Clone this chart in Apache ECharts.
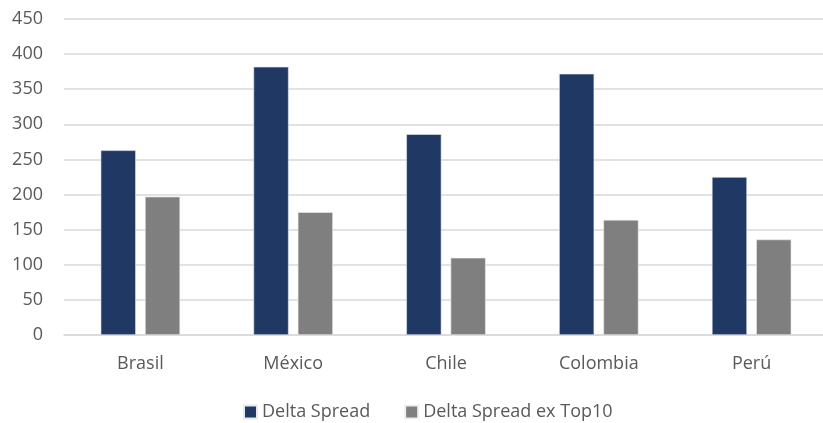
<!DOCTYPE html>
<html>
<head>
<meta charset="utf-8">
<script src="https://cdn.jsdelivr.net/npm/echarts@6/dist/echarts.min.js"></script>
<style>
html,body{margin:0;padding:0;background:#fff;}
#chart{width:823px;height:423px;}
</style>
</head>
<body>
<div id="chart"></div>
<script>
const categories = ['Brasil', 'México', 'Chile', 'Colombia', 'Perú'];
const deltaSpread = [263, 382, 286, 372, 225];
const deltaSpreadExTop10 = [197, 175, 110, 164, 136];
const seriesNames = ['Delta Spread', 'Delta Spread ex Top10'];

const chart = echarts.init(document.getElementById('chart'));
const font = '"Open Sans", "Noto Sans", sans-serif';
chart.setOption({
  animation: false,
  textStyle: { fontFamily: font },
  legend: {
    data: seriesNames,
    top: 403,
    left: 243,
    padding: 0,
    icon: 'rect',
    itemWidth: 13,
    itemHeight: 13,
    itemGap: 34,
    textStyle: { color: '#595959', fontSize: 18, fontFamily: font }
  },
  grid: { left: 64, top: 19, width: 764, height: 316, containLabel: false, outerBoundsMode: 'none' },
  xAxis: {
    type: 'category',
    data: categories,
    axisTick: { show: false },
    axisLine: { lineStyle: { color: '#d9d9d9', width: 1.5 } },
    axisLabel: { color: '#595959', fontSize: 18, margin: 20, fontFamily: font }
  },
  yAxis: {
    type: 'value',
    min: 0, max: 450, interval: 50,
    axisLine: { show: false },
    axisTick: { show: false },
    splitLine: { lineStyle: { color: '#d9d9d9', width: 1.5 } },
    axisLabel: { color: '#595959', fontSize: 18, margin: 21, fontFamily: font }
  },
  series: [
    {
      name: seriesNames[0], type: 'bar', data: deltaSpread,
      barGap: '26%', barCategoryGap: '48%',
      itemStyle: { color: '#203864', borderColor: '#e6e9f0', borderWidth: 0.6 }
    },
    {
      name: seriesNames[1], type: 'bar', data: deltaSpreadExTop10,
      itemStyle: { color: '#7f7f7f', borderColor: '#eeeeee', borderWidth: 0.6 }
    }
  ]
});
</script>
</body>
</html>
